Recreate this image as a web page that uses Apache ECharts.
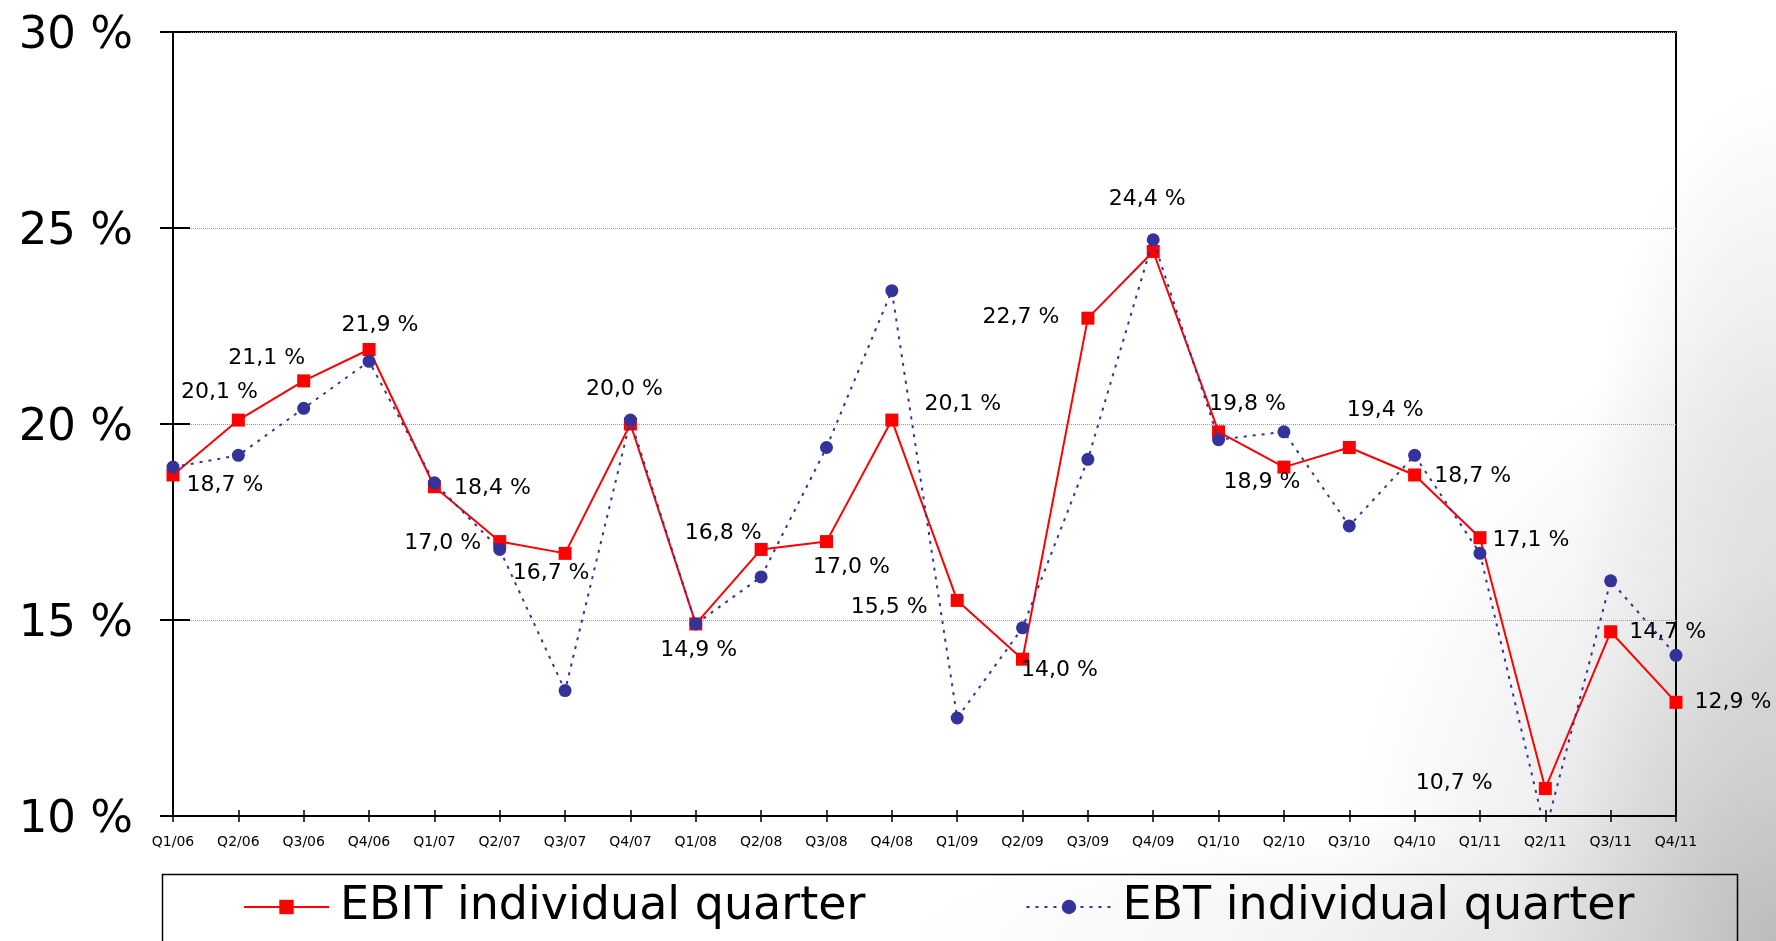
<!DOCTYPE html>
<html>
<head>
<meta charset="utf-8">
<title>EBIT / EBT margin per quarter</title>
<script src="https://cdn.jsdelivr.net/npm/echarts@6/dist/echarts.min.js"></script>
<style>
  html, body { margin: 0; padding: 0; }
  body {
    width: 1776px; height: 941px; overflow: hidden;
    background-color: #ffffff;
    background-image:
      radial-gradient(ellipse 440px 620px at 1776px 941px, rgba(185,185,185,0.95) 0%, rgba(205,205,205,0.8) 30%, rgba(228,228,228,0.55) 60%, rgba(255,255,255,0) 100%),
      radial-gradient(ellipse 200px 560px at 1776px 640px, rgba(208,208,208,0.9) 0%, rgba(226,226,226,0.6) 55%, rgba(255,255,255,0) 100%),
      radial-gradient(ellipse 760px 130px at 1650px 941px, rgba(215,215,215,0.7) 0%, rgba(235,235,235,0.45) 55%, rgba(255,255,255,0) 100%);
  }
  #chart { width: 1776px; height: 941px; }
</style>
</head>
<body>
<div id="chart"></div>
<script>
// Quarters shown on the category axis
const quarters = [
  'Q1/06', 'Q2/06', 'Q3/06', 'Q4/06',
  'Q1/07', 'Q2/07', 'Q3/07', 'Q4/07',
  'Q1/08', 'Q2/08', 'Q3/08', 'Q4/08',
  'Q1/09', 'Q2/09', 'Q3/09', 'Q4/09',
  'Q1/10', 'Q2/10', 'Q3/10', 'Q4/10',
  'Q1/11', 'Q2/11', 'Q3/11', 'Q4/11'
];

// EBIT margin of each individual quarter, in percent
const ebitMargin = [
  18.7, 20.1, 21.1, 21.9,
  18.4, 17.0, 16.7, 20.0,
  14.9, 16.8, 17.0, 20.1,
  15.5, 14.0, 22.7, 24.4,
  19.8, 18.9, 19.4, 18.7,
  17.1, 10.7, 14.7, 12.9
];

// EBT margin of each individual quarter, in percent
const ebtMargin = [
  18.9, 19.2, 20.4, 21.6,
  18.5, 16.8, 13.2, 20.1,
  14.9, 16.1, 19.4, 23.4,
  12.5, 14.8, 19.1, 24.7,
  19.6, 19.8, 17.4, 19.2,
  16.7, 9.6, 16.0, 14.1
];

// Value-axis range and step
const axisMin = 10;
const axisMax = 30;
const axisStep = 5;

// Where each EBIT value label sits relative to its marker (px)
const labelOffsets = [
  [52, 10], [-19, -28], [-37, -23], [11, -24],
  [58, 2], [-57, 2], [-14, 20], [-6, -35],
  [3, 26], [-38, -16], [25, 26], [71, -16],
  [-68, 7], [37, 11], [-67, -1], [-6, -52],
  [29, -28], [-22, 15], [36, -37], [58, 1],
  [51, 3], [-91, -5], [57, 1], [57, 0]
];

const FONT = "'DejaVu Sans', Verdana, sans-serif";
const fmtPct = v => v.toFixed(1).replace('.', ',') + ' %';

const chart = echarts.init(document.getElementById('chart'), null, { renderer: 'canvas' });

const ebitData = ebitMargin.map((v, i) => ({
  value: v,
  label: { offset: labelOffsets[i] }
}));

const option = {
  backgroundColor: 'transparent',
  animation: false,
  textStyle: { fontFamily: FONT },
  grid: {
    left: 173, right: 100, top: 32, bottom: 125,
    show: true, borderColor: '#000', borderWidth: 2, backgroundColor: 'transparent'
  },
  legend: {
    left: 243,
    top: 884,
    padding: 0,
    itemWidth: 85,
    itemHeight: 18,
    itemGap: 160,
    textStyle: { fontSize: 46, color: '#000', fontFamily: FONT, padding: [0, 0, 0, 6] },
    data: ['EBIT individual quarter', 'EBT individual quarter']
  },
  graphic: [{
    type: 'rect',
    left: 160, top: 872,
    shape: { width: 1575, height: 110 },
    style: { fill: 'none', stroke: '#000', lineWidth: 1.5 },
    silent: true
  }],
  xAxis: [{
    type: 'category',
    data: quarters,
    boundaryGap: false,
    position: 'bottom',
    axisLine: { lineStyle: { color: '#000', width: 2 } },
    axisTick: { show: true, inside: false, length: 6, alignWithLabel: true, lineStyle: { color: '#000', width: 1.5 } },
    axisLabel: { interval: 0, fontSize: 14, color: '#000', margin: 19, fontFamily: FONT },
    splitLine: { show: false }
  }, {
    type: 'category',
    data: quarters,
    boundaryGap: false,
    position: 'bottom',
    offset: 0,
    axisLine: { show: false },
    axisTick: { show: true, inside: true, length: 6, lineStyle: { color: '#000', width: 1.5 } },
    axisLabel: { show: false },
    splitLine: { show: false }
  }],
  yAxis: [{
    type: 'value',
    min: axisMin, max: axisMax, interval: axisStep,
    position: 'left',
    axisLine: { show: true, lineStyle: { color: '#000', width: 2 } },
    axisTick: { show: true, inside: false, length: 13, lineStyle: { color: '#000', width: 2 } },
    axisLabel: {
      color: '#000', margin: 40, fontFamily: FONT,
      // an empty spacer line above the value nudges the text slightly below its tick
      formatter: v => '{gap|}\n{v|' + v + ' %}',
      rich: {
        gap: { height: 9, lineHeight: 9, fontSize: 1 },
        v: { fontSize: 45, lineHeight: 50, fontFamily: FONT, color: '#000' }
      }
    },
    splitLine: { show: true, lineStyle: { color: '#9a9a9a', width: 1, type: [1, 1] } }
  }, {
    type: 'value',
    min: axisMin, max: axisMax, interval: axisStep,
    position: 'left',
    offset: 0,
    axisLine: { show: false },
    axisTick: { show: true, inside: true, length: 17, lineStyle: { color: '#000', width: 2 } },
    axisLabel: { show: false },
    splitLine: { show: false }
  }],
  series: [{
    name: 'EBIT individual quarter',
    type: 'line',
    xAxisIndex: 0, yAxisIndex: 0,
    data: ebitData,
    symbol: 'rect',
    symbolSize: 13,
    clip: true,
    itemStyle: { color: '#ff0000' },
    lineStyle: { color: '#ff0000', width: 2 },
    label: {
      show: true,
      position: 'inside',
      align: 'center',
      verticalAlign: 'middle',
      fontSize: 22,
      color: '#000',
      fontFamily: FONT,
      formatter: p => fmtPct(p.value)
    },
    z: 3
  }, {
    name: 'EBT individual quarter',
    type: 'line',
    xAxisIndex: 0, yAxisIndex: 0,
    data: ebtMargin,
    symbol: 'circle',
    symbolSize: 13,
    clip: true,
    itemStyle: { color: '#333399' },
    lineStyle: { color: '#333399', width: 2, type: [3, 6] },
    label: { show: false },
    z: 4
  }]
};

chart.setOption(option);
</script>
</body>
</html>
